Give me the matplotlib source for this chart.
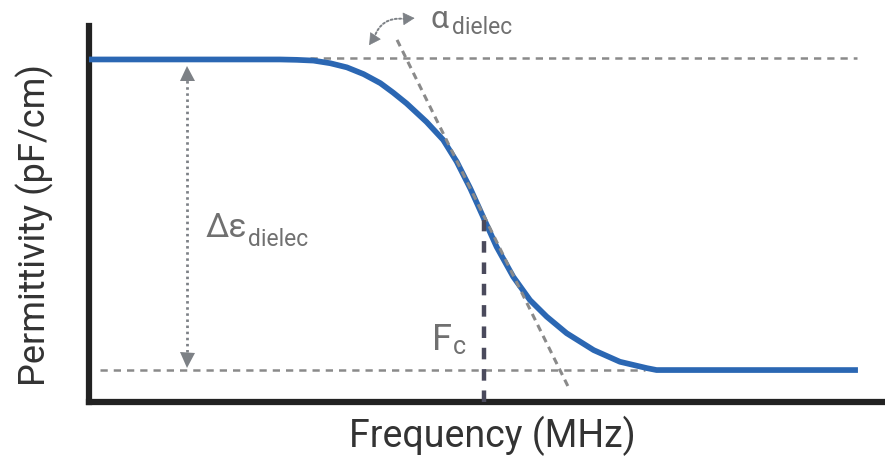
import matplotlib
matplotlib.use("Agg")
import matplotlib.pyplot as plt
from matplotlib.patches import FancyArrowPatch

# ---------------- data (arbitrary units) ----------------
freq = [0.0, 24.0, 26.1, 28.2, 30.3, 32.4, 34.5, 36.6, 38.2, 39.9, 42.4, 44.5,
        46.2, 47.9, 49.5, 51.2, 53.3, 55.4, 57.5, 60.0, 63.4, 66.7, 70.1, 71.3, 96.6]
permittivity = [91.1, 91.1, 91.0, 90.8, 90.1, 89.0, 87.2, 84.8, 82.3, 79.4, 74.5, 69.7,
                63.9, 56.8, 49.3, 41.3, 33.3, 27.1, 22.7, 18.3, 13.8, 10.7, 9.0, 8.5, 8.5]
eps_high = 91.4
eps_low = 8.5
f_c = 49.6
f_c_top = 48.5
tangent_f = [38.7, 60.4]
tangent_eps = [96.3, 3.2]
high_ref_f = [27.8, 96.5]
low_ref_f = [1.4, 69.8]
delta_arrow_f = 12.25
delta_arrow_eps = [9.3, 89.6]          # arrow tips (bottom, top)
alpha_arc_f = [35.8, 39.5]            # dotted arc ends
alpha_arc_eps = [96.8, 101.9]
alpha_tip_f = [35.2, 40.9]            # arrow-head tips
alpha_tip_eps = [94.9, 102.1]

x_label = "Frequency (MHz)"
y_label = "Permittivity (pF/cm)"

W, H = 885, 461
fig = plt.figure(figsize=(W / 100, H / 100), dpi=100)
plt.rcParams['font.family'] = ['Roboto', 'DejaVu Sans']

ax = fig.add_axes([89 / W, (H - 402) / H, (885 - 89) / W, (402 - 26) / H])
ax.set_xlim(0, 100)
ax.set_ylim(0, 100)
ax.set_xticks([])
ax.set_yticks([])
for s in ['top', 'right']:
    ax.spines[s].set_visible(False)
for s in ['left', 'bottom']:
    ax.spines[s].set_linewidth(4.5)
    ax.spines[s].set_color('#222222')
    ax.spines[s].set_capstyle('projecting')

gray = '#8a8a8a'
blue = '#2b67b3'
arrow_gray = '#7d8186'
txt_gray = '#707070'

# reference dashed lines
ax.plot(high_ref_f, [eps_high, eps_high], color=gray, lw=1.8, ls=(0, (2.9, 2.4)), zorder=2)
ax.plot(low_ref_f, [eps_low, eps_low], color=gray, lw=1.8, ls=(0, (2.9, 2.4)), zorder=2)

# main curve
ax.plot(freq, permittivity, color=blue, lw=4.1, solid_capstyle='butt',
        solid_joinstyle='round', zorder=3)

# tangent line
ax.plot(tangent_f, tangent_eps, color=gray, lw=2.2, ls=(0, (2.3, 1.7)), zorder=4,
        clip_on=False)

# Fc line
ax.plot([f_c, f_c], [0, f_c_top], color='#4a4a5c', lw=3.2, ls=(0, (2.6, 2.2)), zorder=5)

# delta-epsilon double arrow: dotted shaft + solid triangular heads
head = 15 / 3.76  # arrow head height in data units (15 px)
ax.plot([delta_arrow_f, delta_arrow_f],
        [delta_arrow_eps[0] + head, delta_arrow_eps[1] - head],
        color=arrow_gray, lw=2.0, ls=(0, (0.9, 1.3)), zorder=4)
ax.plot([delta_arrow_f], [delta_arrow_eps[1] - head / 2], marker='^', ms=10.8,
        color=arrow_gray, mew=0, zorder=4)
ax.plot([delta_arrow_f], [delta_arrow_eps[0] + head / 2], marker='v', ms=10.8,
        color=arrow_gray, mew=0, zorder=4)

# curved alpha arrow
arc = FancyArrowPatch((alpha_arc_f[0], alpha_arc_eps[0]), (alpha_arc_f[1], alpha_arc_eps[1]),
                      connectionstyle='arc3,rad=-0.4', arrowstyle='-',
                      color=arrow_gray, lw=1.4, linestyle=(0, (1.0, 1.2)),
                      shrinkA=0, shrinkB=0, zorder=4, clip_on=False)
ax.add_patch(arc)
for i in range(2):
    hd = FancyArrowPatch((alpha_arc_f[i], alpha_arc_eps[i]), (alpha_tip_f[i], alpha_tip_eps[i]),
                         arrowstyle='-|>,head_length=7.5,head_width=4.2',
                         color=arrow_gray, lw=0.5, shrinkA=0, shrinkB=0,
                         zorder=4, clip_on=False)
    ax.add_patch(hd)


def ptext(x, y, s, **kw):
    return fig.text(x / W, 1 - y / H, s, va='baseline', ha='left', **kw)


renderer = fig.canvas.get_renderer()


def sub_after(main, dy, s, gap=2, **kw):
    bb = main.get_window_extent(renderer)
    x = bb.x1 + gap
    return fig.text(x / W, main.get_position()[1] - dy / H, s, va='baseline', ha='left', **kw)


t = ptext(431, 28.5, 'α', fontsize=23, color=txt_gray)
sub_after(t, 6, 'dielec', gap=3, fontsize=16.5, color=txt_gray)
t = ptext(205, 237, 'Δε', fontsize=24, color=txt_gray)
sub_after(t, 8.5, 'dielec', gap=2, fontsize=16.5, color=txt_gray)
t = ptext(432, 350, 'F', fontsize=26, color=txt_gray)
sub_after(t, 4, 'c', gap=1, fontsize=18, color=txt_gray)

fig.text(492 / W, 1 - 447 / H, x_label, ha='center', va='baseline', fontsize=27,
         color='#333333')
fig.text(35 / W, 1 - 225 / H, y_label, ha='center', va='center', rotation=90,
         fontsize=26, color='#333333')

fig.savefig('out.png', dpi=100)
